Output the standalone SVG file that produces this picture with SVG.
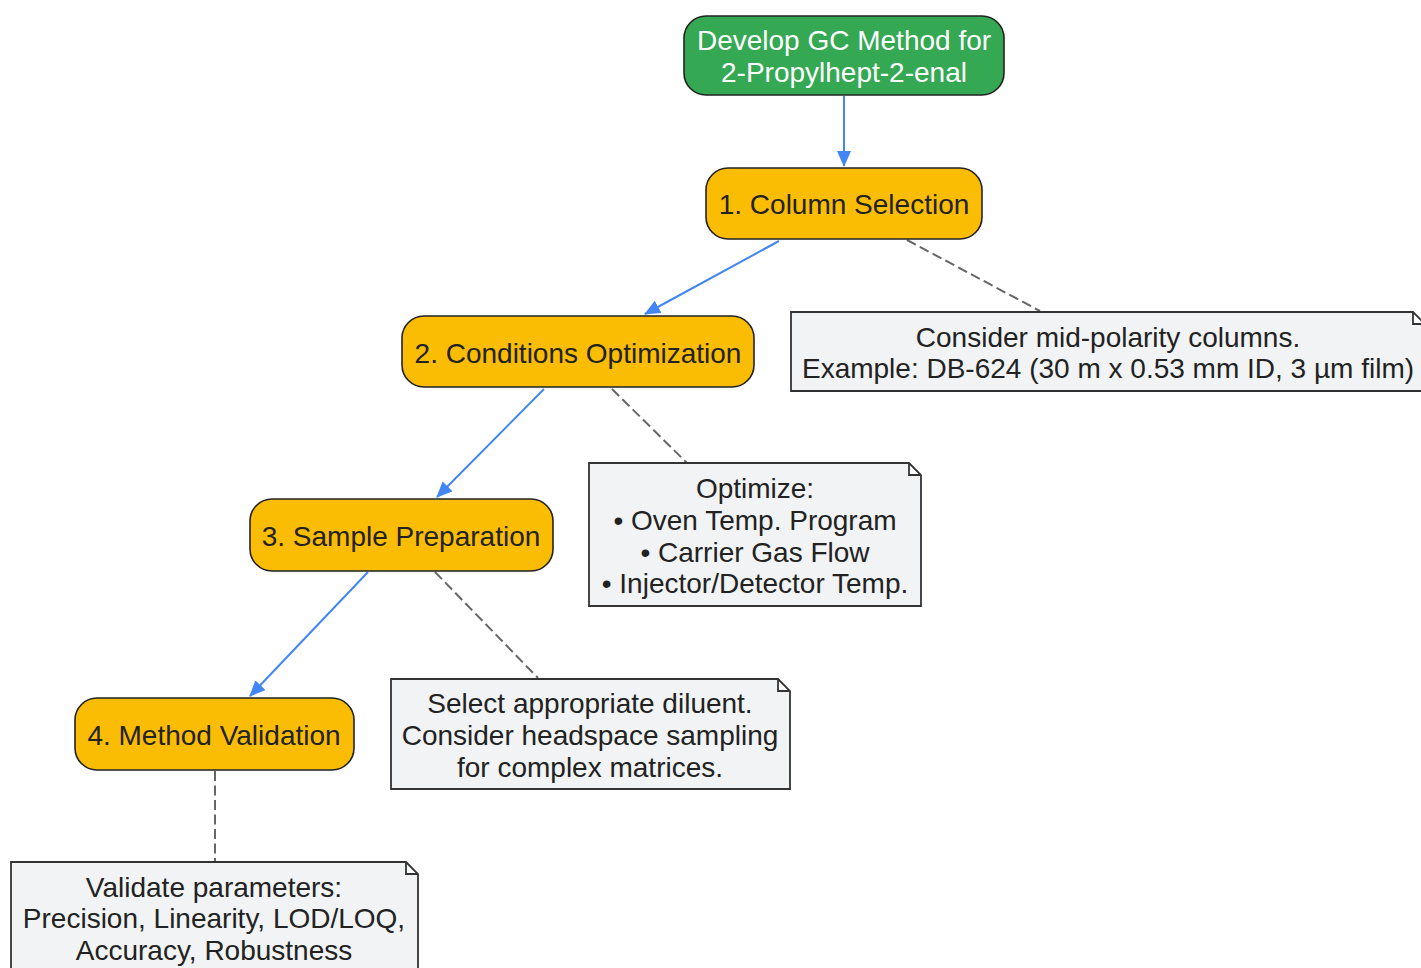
<svg xmlns="http://www.w3.org/2000/svg" width="1421" height="968" viewBox="0 0 1421 968">
<defs>
<style>
.node rect{stroke:#222;stroke-width:1.6}
.start rect{fill:#34A853}
.step rect{fill:#FBBC04}
.note path{fill:#F1F3F4;stroke:#333;stroke-width:1.8}
text{font-family:"Liberation Sans",Arial,sans-serif;font-size:28px;text-anchor:middle;dominant-baseline:central}
.start text{fill:#fff}
.step text,.note text{fill:#222}
.flow{stroke:#4285F4;stroke-width:2;fill:none}
.dash{stroke:#666;stroke-width:2;fill:none;stroke-dasharray:10 4.5}
</style>
<marker id="arr" markerWidth="16" markerHeight="14" refX="15" refY="7" orient="auto" markerUnits="userSpaceOnUse">
<path d="M0,0 L16,7 L0,14 Z" fill="#4285F4"/>
</marker>
</defs>
<rect width="1421" height="968" fill="#fff"/>
<g id="connectors">
<line class="flow" x1="844" y1="96" x2="844" y2="166" marker-end="url(#arr)"/>
<line class="flow" x1="779" y1="241" x2="645" y2="314" marker-end="url(#arr)"/>
<line class="flow" x1="544" y1="389" x2="437" y2="497" marker-end="url(#arr)"/>
<line class="flow" x1="368" y1="572" x2="250" y2="696" marker-end="url(#arr)"/>
<line class="dash" x1="907" y1="240" x2="1040" y2="311"/>
<line class="dash" x1="612" y1="389" x2="687" y2="463"/>
<line class="dash" x1="435" y1="572" x2="538" y2="678"/>
<line class="dash" x1="215" y1="771" x2="215" y2="861"/>
</g>
<g id="start" class="node start">
<rect x="684" y="16" width="320" height="79" rx="22"/>
<text x="844" y="40">Develop GC Method for</text>
<text x="844" y="72">2-Propylhept-2-enal</text>
</g>
<g id="step1" class="node step">
<rect x="706" y="168" width="276" height="71" rx="22"/>
<text x="844" y="204">1. Column Selection</text>
</g>
<g id="step2" class="node step">
<rect x="402" y="316" width="352" height="71" rx="22"/>
<text x="578" y="353">2. Conditions Optimization</text>
</g>
<g id="step3" class="node step">
<rect x="250" y="499" width="303" height="72" rx="22"/>
<text x="401" y="536">3. Sample Preparation</text>
</g>
<g id="step4" class="node step">
<rect x="75" y="698" width="279" height="72" rx="22"/>
<text x="214" y="735">4. Method Validation</text>
</g>
<g id="note1" class="note">
<path d="M791,312 H1413 L1425,324 V391 H791 Z M1413,312 V324 H1425"/>
<text x="1108" y="337">Consider mid-polarity columns.</text>
<text x="1108" y="368">Example: DB-624 (30 m x 0.53 mm ID, 3 µm film)</text>
</g>
<g id="note2" class="note">
<path d="M589,463 H909 L921,475 V606 H589 Z M909,463 V475 H921"/>
<text x="755" y="488">Optimize:</text>
<text x="755" y="520">• Oven Temp. Program</text>
<text x="755" y="552">• Carrier Gas Flow</text>
<text x="755" y="583">• Injector/Detector Temp.</text>
</g>
<g id="note3" class="note">
<path d="M391,679 H778 L790,691 V789 H391 Z M778,679 V691 H790"/>
<text x="590" y="703">Select appropriate diluent.</text>
<text x="590" y="735">Consider headspace sampling</text>
<text x="590" y="767">for complex matrices.</text>
</g>
<g id="note4" class="note">
<path d="M11,862 H406 L418,874 V975 H11 Z M406,862 V874 H418"/>
<text x="214" y="887">Validate parameters:</text>
<text x="214" y="918">Precision, Linearity, LOD/LOQ,</text>
<text x="214" y="950">Accuracy, Robustness</text>
</g>
</svg>
